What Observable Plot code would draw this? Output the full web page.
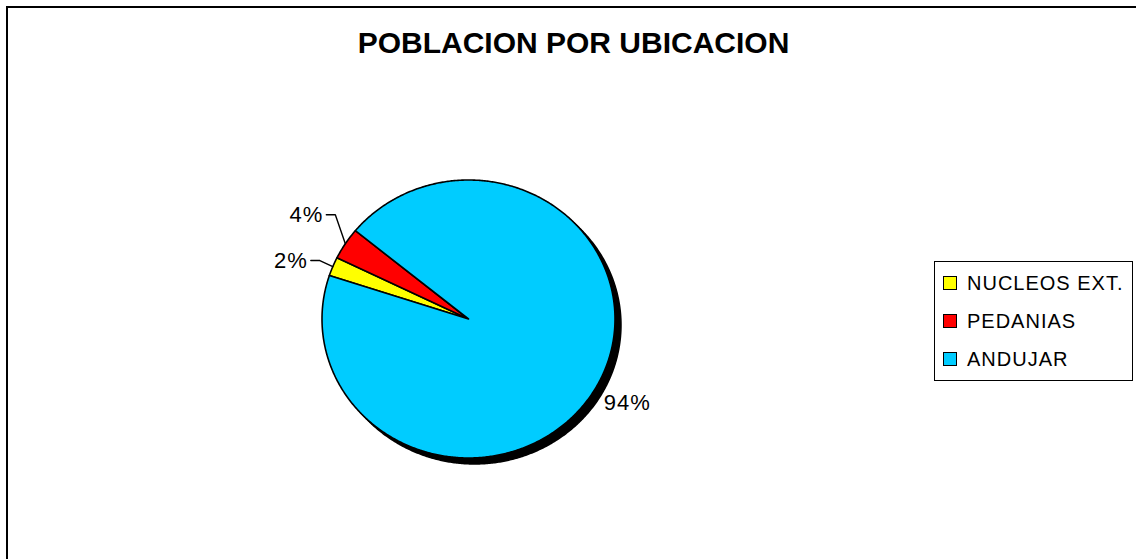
<!DOCTYPE html>
<html>
<head>
<meta charset="utf-8">
<script src="https://cdn.jsdelivr.net/npm/d3@7"></script>
<script src="https://cdn.jsdelivr.net/npm/@observablehq/plot@0.6"></script>
<style>
  body { margin: 0; background: #fff; font-family: "Liberation Sans", Arial, sans-serif; }
  #wrap { position: relative; width: 1136px; height: 559px; overflow: hidden; background: #fff; }
  #frame { position: absolute; left: 6px; top: 6px; width: 1200px; height: 700px; border: 2px solid #000; box-sizing: border-box; }
  #chart { position: absolute; left: 0; top: 0; }
  #title { position: absolute; left: 0; top: 28px; width: 1147px; text-align: center; font-weight: bold; font-size: 30px; line-height: 30px; color: #000; }
  #legend { position: absolute; left: 934px; top: 261px; width: 199px; height: 120px; border: 1.5px solid #000; box-sizing: border-box; background: #fff; }
  .item { position: absolute; left: 0; height: 20px; font-size: 20px; line-height: 20px; color: #000; letter-spacing: 1px; white-space: nowrap; }
  .sw { position: absolute; left: 8px; top: 3px; width: 14px; height: 14px; border: 1px solid #000; box-sizing: border-box; }
  .lbl { position: absolute; left: 32px; top: 0; }
</style>
</head>
<body>
<div id="wrap">
  <div id="frame"></div>
  <div id="chart"></div>
  <div id="title">POBLACION POR UBICACION</div>
  <div id="legend"></div>
</div>
<script>
// ---- data ----
const categories = ["NUCLEOS EXT.", "PEDANIAS", "ANDUJAR"];
const values = [2.2, 3.7, 94.1];
const percentLabels = ["2%", "4%", "94%"];
const colors = ["#FFFF00", "#FF0000", "#00CCFF"];

// ---- styling / layout ----
const startDeg = 288.2;
const cx = 468, cy = 318.5, rx = 146.5, ry = 139;
const leaderOffsets = [[-13, -6], [-10, -29], null]; // pixel offsets of leader elbows
const labelNudge = [[0, 0], [0, 0], [7, 17]];

const pie = d3.pie().sort(null).value(d => d.value)
  .startAngle(startDeg * Math.PI / 180)
  .endAngle(startDeg * Math.PI / 180 + 2 * Math.PI);
const table = categories.map((c, i) => ({name: c, value: values[i], label: percentLabels[i], color: colors[i]}));
const arcs = pie(table);

const pt = (a, r = 1) => ({x: r * Math.sin(a), y: r * Math.cos(a)});
function slicePoints(a0, a1) {
  const n = Math.max(2, Math.ceil((a1 - a0) / (Math.PI / 360)));
  const pts = [{x: 0, y: 0}];
  for (let k = 0; k <= n; k++) pts.push(pt(a0 + (a1 - a0) * k / n));
  pts.push({x: 0, y: 0});
  return pts;
}
function ellipsePoints() {
  const pts = [];
  for (let k = 0; k <= 720; k++) pts.push(pt(2 * Math.PI * k / 720));
  return pts;
}
const pxToX = p => p / rx, pxToY = p => -p / ry;

const marks = [];
// shadow
marks.push(Plot.line(ellipsePoints(), {x: "x", y: "y", fill: "#000", stroke: "#000", strokeWidth: 1.5, dx: 6, dy: 6}));
// slices
arcs.forEach(a => {
  marks.push(Plot.line(slicePoints(a.startAngle, a.endAngle), {
    x: "x", y: "y", fill: a.data.color, stroke: "#000", strokeWidth: 1.6, strokeLinejoin: "round"
  }));
});
// labels and leaders
arcs.forEach((a, i) => {
  const mid = (a.startAngle + a.endAngle) / 2;
  const edge = pt(mid);
  const off = leaderOffsets[i];
  if (off) {
    const elbow = {x: edge.x + pxToX(off[0]), y: edge.y + pxToY(off[1])};
    const end = {x: elbow.x + pxToX(-9), y: elbow.y};
    marks.push(Plot.line([edge, elbow, end], {x: "x", y: "y", stroke: "#000", strokeWidth: 1.4}));
    marks.push(Plot.text([{...end, t: a.data.label}], {
      x: "x", y: "y", text: "t", textAnchor: "end", lineAnchor: "middle", dx: -3, dy: 0,
      fontSize: 22, fill: "#000", fontFamily: "Liberation Sans, Arial, sans-serif"
    }));
  } else {
    marks.push(Plot.text([{...edge, t: a.data.label}], {
      x: "x", y: "y", text: "t", textAnchor: "start", lineAnchor: "middle",
      dx: labelNudge[i][0], dy: labelNudge[i][1],
      fontSize: 22, fill: "#000", fontFamily: "Liberation Sans, Arial, sans-serif"
    }));
  }
});

const chart = Plot.plot({
  width: 1136, height: 559,
  margin: 0,
  style: {background: "transparent", overflow: "visible"},
  x: {domain: [-1, 1], range: [cx - rx, cx + rx], axis: null},
  y: {domain: [-1, 1], range: [cy + ry, cy - ry], axis: null},
  marks
});
chart.querySelectorAll("text").forEach(t => t.setAttribute("letter-spacing", "1"));
document.getElementById("chart").appendChild(chart);

// legend
const legend = document.getElementById("legend");
categories.forEach((c, i) => {
  const it = document.createElement("div");
  it.className = "item";
  it.style.top = (11 + i * 38.2) + "px";
  it.innerHTML = `<div class="sw" style="background:${colors[i]}"></div><div class="lbl">${c}</div>`;
  legend.appendChild(it);
});
</script>
</body>
</html>
